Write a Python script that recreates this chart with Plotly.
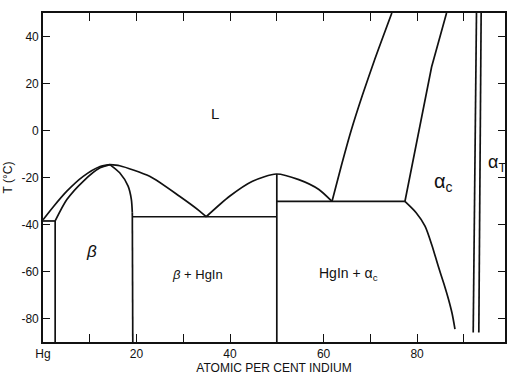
import plotly.graph_objects as go

# ---- data (atomic % In, temperature °C) ----
liq_left_x = [0, 2.3, 5.1, 8.6, 12.2, 14.3]
liq_left_t = [-38.0, -32.2, -25.8, -19.5, -15.3, -14.5]

beta_sol_x = [2.6, 5.1, 8.6, 12.2, 14.3]
beta_sol_t = [-38.5, -29.4, -21.6, -15.9, -14.5]

beta_right_x = [14.3, 16.4, 18.2, 18.9, 19.1]
beta_right_t = [-14.5, -18.0, -23.7, -29.4, -35.0]

beta_vert_x = [19.1, 19.2]
beta_vert_t = [-35.0, -90.0]

liq_mid_x = [14.3, 16.4, 22.8, 29.2, 33.5, 34.9]
liq_mid_t = [-14.5, -15.0, -19.5, -28.0, -34.3, -36.7]

hgin_liq_x = [34.9, 39.9, 44.8, 49.9, 54.7, 59.0, 61.8]
hgin_liq_t = [-36.7, -28.0, -21.6, -18.5, -20.9, -25.1, -30.2]

eut1_x = [19.1, 50.0]
eut1_t = [-36.7, -36.7]

hgin_vert_x = [50.0, 50.0]
hgin_vert_t = [-18.5, -90.0]

eut2_x = [50.0, 77.4]
eut2_t = [-30.2, -30.2]

liq_right_x = [61.8, 63.8, 65.9, 68.3, 70.9, 74.6]
liq_right_t = [-30.2, -15.0, 0.0, 15.0, 30.0, 50.0]

alpha_sol_x = [77.4, 80.3, 83.1, 86.3]
alpha_sol_t = [-30.2, -1.0, 27.0, 50.0]

alpha_solvus_x = [77.4, 79.8, 81.7, 83.2, 84.5, 85.7, 86.7, 87.5, 88.1]
alpha_solvus_t = [-30.2, -35.0, -40.7, -49.0, -57.6, -65.0, -71.7, -78.0, -84.5]

tr1_x = [92.7, 92.0]
tr1_t = [50.0, -86.0]
tr2_x = [93.7, 93.2]
tr2_t = [50.0, -86.0]

hg_eut_x = [0.0, 2.6]
hg_eut_t = [-38.5, -38.5]

beta_left_x = [2.6, 2.6]
beta_left_t = [-38.5, -90.0]

x_tick_vals = [0, 10, 20, 30, 40, 50, 60, 70, 80, 90]
x_tick_text = ["Hg", "", "20", "", "40", "", "60", "", "80", ""]
y_tick_vals = [-80, -60, -40, -20, 0, 20, 40]
y_tick_text = ["-80", "-60", "-40", "-20", "0", "20", "40"]

LC = "#111111"
fig = go.Figure()

curves = [
    (liq_left_x, liq_left_t, True),
    (beta_sol_x, beta_sol_t, True),
    (beta_right_x, beta_right_t, True),
    (beta_vert_x, beta_vert_t, False),
    (liq_mid_x, liq_mid_t, True),
    (hgin_liq_x, hgin_liq_t, True),
    (eut1_x, eut1_t, False),
    (hgin_vert_x, hgin_vert_t, False),
    (eut2_x, eut2_t, False),
    (liq_right_x, liq_right_t, True),
    (alpha_sol_x, alpha_sol_t, False),
    (alpha_solvus_x, alpha_solvus_t, True),
    (tr1_x, tr1_t, False),
    (tr2_x, tr2_t, False),
    (hg_eut_x, hg_eut_t, False),
    (beta_left_x, beta_left_t, False),
]
for xs, ts, smooth in curves:
    line = dict(color=LC, width=1.7)
    if smooth:
        line.update(shape="spline", smoothing=0.7)
    fig.add_trace(go.Scatter(x=xs, y=ts, mode="lines", line=line,
                             hoverinfo="skip", showlegend=False, cliponaxis=True))

FONT = "Liberation Sans"
labels = [
    ("L", 36.7, 7.4, 15),
    ("<i>β</i>", 10.4, -51.3, 17),
    ("<i>β</i> + HgIn", 33.1, -61.1, 13),
    ("HgIn + α<sub>c</sub>", 65.4, -61.1, 14),
    ("α<sub>c</sub>", 85.6, -22.3, 20),
    ("α<sub>T</sub>", 97.0, -14.0, 18),
]
for txt, x, y, s in labels:
    fig.add_annotation(x=x, y=y, text=txt, showarrow=False,
                       font=dict(family=FONT, size=s, color=LC))

axis_common = dict(showline=True, linecolor=LC, linewidth=1.6, mirror="ticks",
                   ticks="inside", tickcolor=LC, tickwidth=1.4, showgrid=False,
                   zeroline=False, tickfont=dict(family=FONT, size=12, color=LC))
fig.update_xaxes(range=[0, 98.8], tickvals=x_tick_vals, ticktext=x_tick_text,
                 ticklen=8, title=dict(text="ATOMIC PER CENT INDIUM", standoff=4,
                                       font=dict(family=FONT, size=12, color=LC)),
                 **axis_common)
fig.update_yaxes(range=[-90, 50], tickvals=y_tick_vals, ticktext=y_tick_text,
                 ticklen=7, title=dict(text="T (°C)", standoff=6,
                                       font=dict(family=FONT, size=12, color=LC)),
                 **axis_common)

fig.update_layout(width=508, height=375,
                  margin=dict(l=43, r=1, t=13, b=33),
                  paper_bgcolor="white", plot_bgcolor="white")
fig.write_html("out.html")
